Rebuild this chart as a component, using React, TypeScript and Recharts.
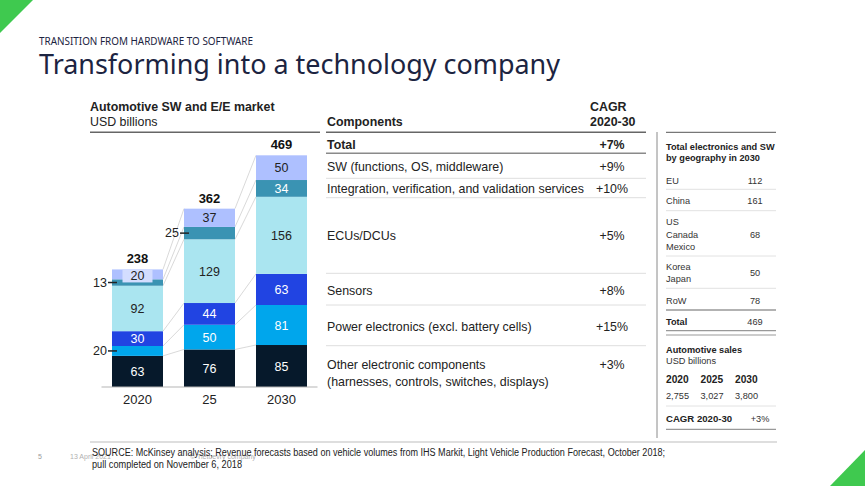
import React from "react";
import { ComposedChart, Bar, XAxis, YAxis, LabelList } from "recharts";

// ---------- data ----------
const years = ["2020", "25", "2030"];
const otherComponents = [63, 76, 85];
const powerElectronics = [20, 50, 81];
const sensors = [30, 44, 63];
const ecus = [92, 129, 156];
const integration = [13, 25, 34];
const software = [20, 37, 50];
const totals = [238, 362, 469];

const componentNames = [
  ["SW (functions, OS, middleware)"],
  ["Integration, verification, and validation services"],
  ["ECUs/DCUs"],
  ["Sensors"],
  ["Power electronics (excl. battery cells)"],
  ["Other electronic components", "(harnesses, controls, switches, displays)"],
];
const componentCagr = ["+9%", "+10%", "+5%", "+8%", "+15%", "+3%"];
const totalCagr = "+7%";

const regions = [["EU"], ["China"], ["US", "Canada", "Mexico"], ["Korea", "Japan"], ["RoW"]];
const regionValues = [112, 161, 68, 50, 78];
const regionTotal = 469;

const salesYears = ["2020", "2025", "2030"];
const salesValues = ["2,755", "3,027", "3,800"];
const salesCagr = "+3%";

// ---------- config ----------
const seriesDefs = [
  { key: "other", values: otherComponents, color: "#06192b", text: "#ffffff" },
  { key: "power", values: powerElectronics, color: "#00a6ec", text: "#ffffff" },
  { key: "sensors", values: sensors, color: "#2144e2", text: "#ffffff" },
  { key: "ecu", values: ecus, color: "#aae5f0", text: "#222222" },
  { key: "integration", values: integration, color: "#3a93b3", text: "#ffffff" },
  { key: "sw", values: software, color: "#aec0ff", text: "#222222" },
];
const outsideLabels: Record<string, number[]> = { power: [0], integration: [0, 1] };

const data = years.map((y, i) => {
  const row: any = { year: y, total: totals[i] };
  seriesDefs.forEach((s) => (row[s.key] = s.values[i]));
  return row;
});

const GAP = 0.1458; // barCategoryGap fraction
const FONT = "'Liberation Sans', Arial, sans-serif";

const cum = (i: number, k: number) =>
  seriesDefs.slice(0, k + 1).reduce((a, s) => a + s.values[i], 0);

// bar shape that also draws the connector from this segment's top to the next bar's same segment top
const makeShape = (k: number) => (props: any) => {
  const x = Number(props.x), y = Number(props.y), w = Number(props.width), h = Number(props.height);
  let i = props.index;
  if (typeof i !== "number") i = years.indexOf(props.payload?.year);
  const out: any[] = [<rect key="r" x={x} y={y} width={w} height={h} fill={props.fill} />];
  if (i >= 0 && i < years.length - 1 && h > 0) {
    const ppu = h / seriesDefs[k].values[i];
    const base = y + h + (k > 0 ? cum(i, k - 1) : 0) * ppu;
    const band = w / (1 - 2 * GAP);
    const y2 = base - cum(i + 1, k) * ppu;
    out.push(
      <line key="l" x1={x + w} y1={y} x2={x + band} y2={y2} stroke="#cfcfcf" strokeWidth={0.8} />
    );
  }
  return <g>{out}</g>;
};

const makeLabel = (key: string, textColor: string) => (props: any) => {
  const vb = props.viewBox || props;
  const x = Number(vb.x ?? props.x);
  const y = Number(vb.y ?? props.y);
  const w = Number(vb.width ?? props.width);
  const h = Number(vb.height ?? props.height);
  const idx = props.index;
  const value = props.value;
  const cy = y + h / 2;
  if ((outsideLabels[key] || []).includes(idx)) {
    return (
      <g>
        <line x1={x - 4} x2={x + 5} y1={cy} y2={cy} stroke="#222" strokeWidth={1.5} />
        <text x={x - 5} y={cy} dy="0.35em" textAnchor="end" fontSize={12.5} fontFamily={FONT} fill="#222">
          {value}
        </text>
      </g>
    );
  }
  return (
    <g>
      {h < 13 && <rect x={x + w / 2 - 15} y={y} width={30} height={13} fill="#d3ddff" />}
      <text x={x + w / 2} y={h < 13 ? y + 6.5 : cy} dy="0.36em" textAnchor="middle" fontSize={12.5} fontFamily={FONT} fill={textColor}>
        {value}
      </text>
    </g>
  );
};

const T = (p: any) => <text fontFamily={FONT} fill="#222" {...p} />;

export default function App() {
  const hdrRowsY = [171, 193, 239.5, 294.5, 331, 369];
  const sepY = [178.3, 197.7, 273.3, 305, 345.7];
  const regionY = [[183.5], [204], [225, 237.5, 249.5], [270, 282], [303.5]];
  const regionValY = [183.5, 204, 237.5, 276, 303.5];
  const regionSep = [189.3, 210.7, 256, 288.3];
  return (
    <div style={{ position: "absolute", left: 0, top: 0, width: 865, height: 486, background: "#fff" }}>
      <div style={{ position: "absolute", left: 0, top: 0 }}>
        <ComposedChart width={865} height={486} data={data} barCategoryGap="14.58%"
          margin={{ top: 140, right: 547.5, bottom: 69, left: 101.5 }}>
          <XAxis dataKey="year" height={30} tickLine={false}
            axisLine={{ stroke: "#b5b5b5" }} tick={{ fontSize: 13, fill: "#222", fontFamily: FONT }} />
          <YAxis type="number" domain={[0, 500]} allowDataOverflow hide />
          {seriesDefs.map((s, k) => (
            <Bar key={s.key} dataKey={s.key} stackId="a" fill={s.color} isAnimationActive={false} shape={makeShape(k)}>
              <LabelList dataKey={s.key} content={makeLabel(s.key, s.text)} />
              {k === seriesDefs.length - 1 && (
                <LabelList dataKey="total" position="top" offset={6}
                  style={{ fontSize: 13, fontWeight: 700, fill: "#111", fontFamily: FONT }} />
              )}
            </Bar>
          ))}
        </ComposedChart>
      </div>
      <svg width={865} height={486} style={{ position: "absolute", left: 0, top: 0, pointerEvents: "none" }}>
        {/* decorations */}
        <polygon points="0,0 33,0 0,33" fill="#3fc94f" />
        <polygon points="865,450 865,486 830,486" fill="#3fc94f" />
        <text x={39} y={44.5} fontFamily="'Noto Sans', sans-serif" fontSize={10} fill="#1c2441" textLength={214} lengthAdjust="spacingAndGlyphs">
          TRANSITION FROM HARDWARE TO SOFTWARE
        </text>
        <text x={39} y={74} fontFamily="'Noto Sans', sans-serif" fontSize={28} fill="#1c2441" textLength={521} lengthAdjust="spacingAndGlyphs">
          Transforming into a technology company
        </text>

        {/* left chart header */}
        <T x={90} y={111} fontSize={12.4} fontWeight={700}>Automotive SW and E/E market</T>
        <T x={90} y={126} fontSize={12.4}>USD billions</T>
        <line x1={90} x2={320} y1={132.3} y2={132.3} stroke="#666" strokeWidth={1.4} />

        {/* components table */}
        <T x={327} y={126} fontSize={12.4} fontWeight={700}>Components</T>
        <T x={590} y={111} fontSize={12.4} fontWeight={700}>CAGR</T>
        <T x={590} y={126} fontSize={12.4} fontWeight={700}>2020-30</T>
        <line x1={326} x2={646} y1={132.3} y2={132.3} stroke="#666" strokeWidth={1.4} />
        <T x={327} y={148.5} fontSize={12.4} fontWeight={700}>Total</T>
        <T x={612} y={148.5} fontSize={12.4} fontWeight={700} textAnchor="middle">{totalCagr}</T>
        <line x1={326} x2={646} y1={153.3} y2={153.3} stroke="#8a8a8a" strokeWidth={1.4} />
        {componentNames.map((lines, i) => (
          <g key={i}>
            {lines.map((l, j) => (
              <T key={j} x={327} y={hdrRowsY[i] + j * 16.7} fontSize={12.4}>{l}</T>
            ))}
            <T x={612} y={hdrRowsY[i]} fontSize={12.4} textAnchor="middle">{componentCagr[i]}</T>
          </g>
        ))}
        {sepY.map((y, i) => (
          <line key={i} x1={326} x2={646} y1={y} y2={y} stroke="#dedede" strokeWidth={1} />
        ))}

        {/* right panel */}
        <line x1={657} x2={657} y1={132} y2={438} stroke="#8a8a8a" strokeWidth={1} />
        <line x1={666} x2={776} y1={132.3} y2={132.3} stroke="#777" strokeWidth={1.2} />
        <T x={666} y={149.5} fontSize={9.2} fontWeight={700}>Total electronics and SW</T>
        <T x={666} y={160.5} fontSize={9.2} fontWeight={700}>by geography in 2030</T>
        {regions.map((lines, i) => (
          <g key={i}>
            {lines.map((l, j) => (
              <T key={j} x={666} y={regionY[i][j]} fontSize={9.2} fill="#333">{l}</T>
            ))}
            <T x={755} y={regionValY[i]} fontSize={9.2} fill="#333" textAnchor="middle">{regionValues[i]}</T>
          </g>
        ))}
        {regionSep.map((y, i) => (
          <line key={i} x1={666} x2={776} y1={y} y2={y} stroke="#e2e2e2" strokeWidth={1} />
        ))}
        <line x1={666} x2={776} y1={310} y2={310} stroke="#999" strokeWidth={1.4} />
        <T x={666} y={324.5} fontSize={9.2} fontWeight={700}>Total</T>
        <T x={755} y={324.5} fontSize={9.2} fill="#333" textAnchor="middle">{regionTotal}</T>
        <line x1={666} x2={776} y1={330.7} y2={330.7} stroke="#999" strokeWidth={1.2} />
        <line x1={666} x2={776} y1={335} y2={335} stroke="#999" strokeWidth={1.2} />
        <T x={666} y={353} fontSize={9.2} fontWeight={700}>Automotive sales</T>
        <T x={666} y={364} fontSize={9.2} fill="#333">USD billions</T>
        {salesYears.map((y, i) => (
          <T key={y} x={666 + i * 34.5} y={382.5} fontSize={10.2} fontWeight={700}>{y}</T>
        ))}
        {salesValues.map((v, i) => (
          <T key={v} x={666 + i * 34.5} y={398.5} fontSize={9.2} fill="#333">{v}</T>
        ))}
        <line x1={666} x2={776} y1={406} y2={406} stroke="#e2e2e2" strokeWidth={1} />
        <T x={666} y={422} fontSize={9.6} fontWeight={700}>CAGR 2020-30</T>
        <T x={760} y={422} fontSize={9.2} fill="#333" textAnchor="middle">{salesCagr}</T>
        <line x1={666} x2={776} y1={429.3} y2={429.3} stroke="#999" strokeWidth={1.2} />

        {/* footer */}
        <line x1={90} x2={777} y1={442} y2={442} stroke="#bdbdbd" strokeWidth={1} />
        <T x={38} y={459} fontSize={7} fill="#9a9a9a">5</T>
        <T x={70} y={459} fontSize={7} fill="#b0b0b0">13 April 2021</T>
        <T x={190} y={459} fontSize={7} fill="#b0b0b0">© Tietoevry company</T>
        <T x={92} y={456} fontSize={10} fill="#222" textLength={573} lengthAdjust="spacingAndGlyphs">
          SOURCE: McKinsey analysis; Revenue forecasts based on vehicle volumes from IHS Markit, Light Vehicle Production Forecast, October 2018;
        </T>
        <T x={92} y={468} fontSize={10} fill="#222" textLength={150} lengthAdjust="spacingAndGlyphs">
          pull completed on November 6, 2018
        </T>
      </svg>
    </div>
  );
}
